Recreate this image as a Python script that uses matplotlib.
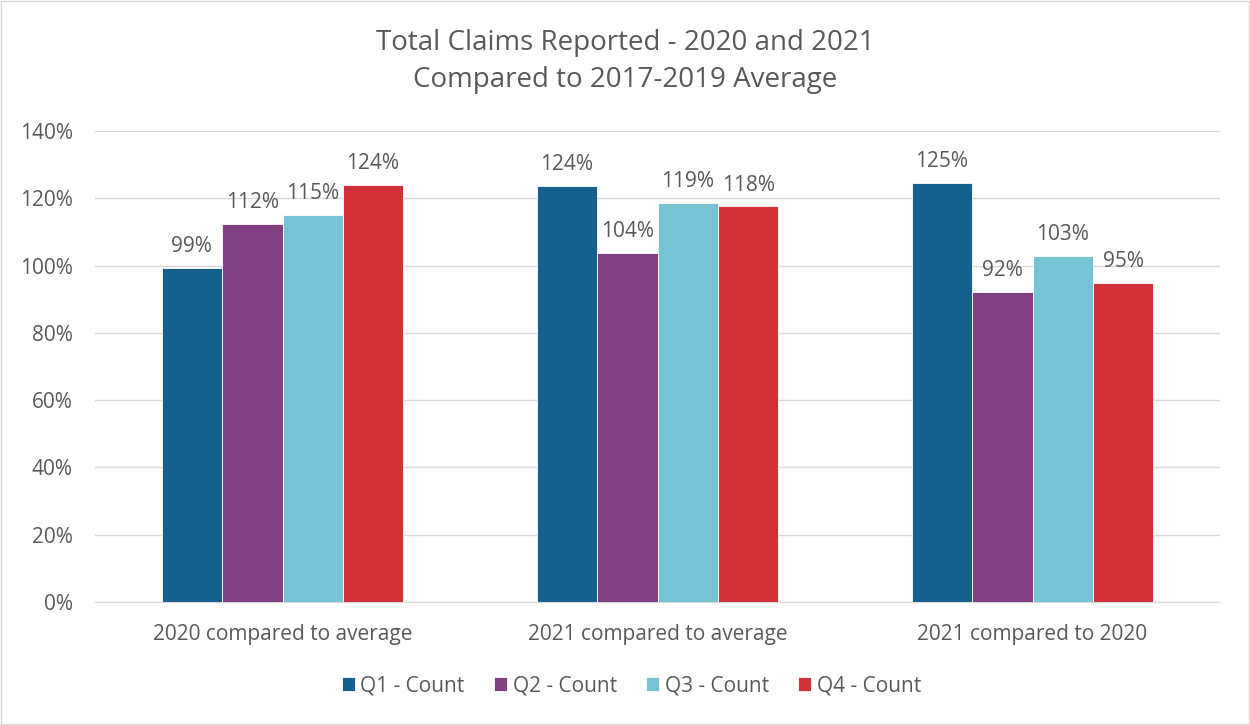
import matplotlib.pyplot as plt
import numpy as np

categories = ['2020 compared to average', '2021 compared to average', '2021 compared to 2020']
series_names = ['Q1 - Count', 'Q2 - Count', 'Q3 - Count', 'Q4 - Count']
q1 = [0.993, 1.237, 1.246]
q2 = [1.124, 1.037, 0.922]
q3 = [1.151, 1.186, 1.029]
q4 = [1.240, 1.176, 0.948]
colors = ['#14608f', '#823f82', '#76c3d4', '#d13138']

plt.rcParams['font.family'] = ['Open Sans', 'DejaVu Sans']
text_color = '#595959'

fig = plt.figure(figsize=(12.5, 7.25), dpi=100)
ax = fig.add_axes([0.076, 0.1697, 0.9, 0.6497])

x = np.arange(len(categories))
width = 0.161
for i, (vals, name) in enumerate(zip([q1, q2, q3, q4], series_names)):
    pos = x + (i - 1.5) * width
    bars = ax.bar(pos, vals, width, color=colors[i], label=name,
                  edgecolor='white', linewidth=0.6, zorder=3)
    for b, v in zip(bars, vals):
        ax.text(b.get_x() + b.get_width() / 2, v + 0.032, f"{v * 100:.0f}%",
                ha='center', va='bottom', fontsize=15, color=text_color)

ax.set_xlim(-0.5, 2.5)
ax.set_ylim(0, 1.4)
ax.set_yticks(np.arange(0, 1.41, 0.2))
ax.set_yticklabels([f"{int(round(t * 100))}%" for t in np.arange(0, 1.41, 0.2)])
ax.set_xticks(x)
ax.set_xticklabels(categories)
ax.tick_params(axis='both', length=0, labelsize=15, colors=text_color)
ax.tick_params(axis='x', pad=16)
ax.tick_params(axis='y', pad=16)
ax.grid(axis='y', color='#d9d9d9', linewidth=1, zorder=0)
for s in ['top', 'right', 'left']:
    ax.spines[s].set_visible(False)
ax.spines['bottom'].set_color('#d9d9d9')

fig.suptitle("Total Claims Reported - 2020 and 2021\nCompared to 2017-2019 Average",
             y=0.96, fontsize=20, color=text_color, linespacing=1.42)

fig.legend(loc='center', bbox_to_anchor=(0.505, 1 - 686 / 725), ncol=4, frameon=False,
           fontsize=15, labelcolor=text_color, handlelength=0.65, handleheight=0.65,
           handletextpad=0.25, columnspacing=1.4)

fig.patches.append(plt.Rectangle((0.001, 0.001), 0.998, 0.998, transform=fig.transFigure,
                                 fill=False, edgecolor='#d9d9d9', linewidth=1))

plt.savefig('out.png')
